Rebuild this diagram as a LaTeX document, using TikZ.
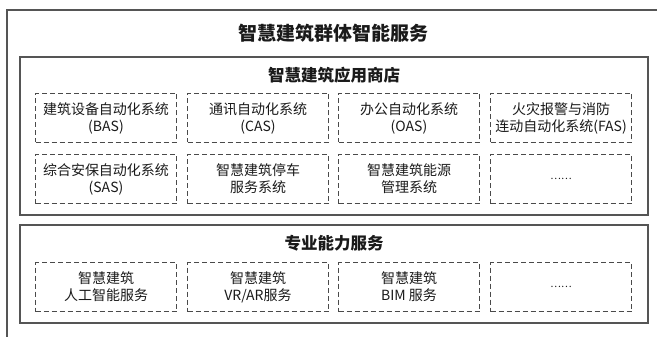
\documentclass[tikz,border=0pt]{standalone}
\usepackage{fontspec}
\setmainfont{Noto Sans CJK SC}
\definecolor{linegray}{HTML}{555555}
\definecolor{dashgray}{HTML}{4A4A4A}
\definecolor{txt}{HTML}{1A1A1A}
\begin{document}
\begin{tikzpicture}[x=1pt,y=-1pt,
  panel/.style={draw=linegray,line width=1.2pt},
  itembox/.style={draw=dashgray,line width=1pt,dash pattern=on 5pt off 3pt,
    minimum width=141pt,minimum height=49pt,inner sep=0pt,anchor=north west,
    align=center,text=txt,font=\fontsize{14}{17}\selectfont},
  bigtitle/.style={font=\fontsize{19}{22}\selectfont\bfseries,text=txt},
  midtitle/.style={font=\fontsize{16.5}{20}\selectfont\bfseries,text=txt}]
\useasboundingbox (0,0) rectangle (657,337);
\clip (0,0) rectangle (657,337);
\fill[white] (0,0) rectangle (657,337);
% outer frame
\draw[panel] (7,10) rectangle (680,360);
\node[bigtitle] (main) at (333,33) {智慧建筑群体智能服务};
% app store
\draw[panel] (20,57) rectangle (648,215);
\node[midtitle] (store) at (334,75) {智慧建筑应用商店};
\node[itembox] (bas) at (35,93) {建筑设备自动化系统\\(BAS)};
\node[itembox] (cas) at (187,93) {通讯自动化系统\\(CAS)};
\node[itembox] (oas) at (338,93) {办公自动化系统\\(OAS)};
\node[itembox] (fas) at (490,93) {火灾报警与消防\\连动自动化系统(FAS)};
\node[itembox] (sas) at (35,154) {综合安保自动化系统\\(SAS)};
\node[itembox] (park) at (187,154) {智慧建筑停车\\服务系统};
\node[itembox] (energy) at (338,154) {智慧建筑能源\\管理系统};
\node[itembox] (more1) at (490,154) {\fontsize{10}{12}\selectfont ……};
% professional
\draw[panel] (20,225) rectangle (648,323);
\node[midtitle] (prof) at (334,243) {专业能力服务};
\node[itembox] (ai) at (35,262) {智慧建筑\\人工智能服务};
\node[itembox] (vr) at (187,262) {智慧建筑\\VR/AR服务};
\node[itembox] (bim) at (338,262) {智慧建筑\\BIM 服务};
\node[itembox] (more2) at (490,262) {\fontsize{10}{12}\selectfont ……};
\end{tikzpicture}
\end{document}
